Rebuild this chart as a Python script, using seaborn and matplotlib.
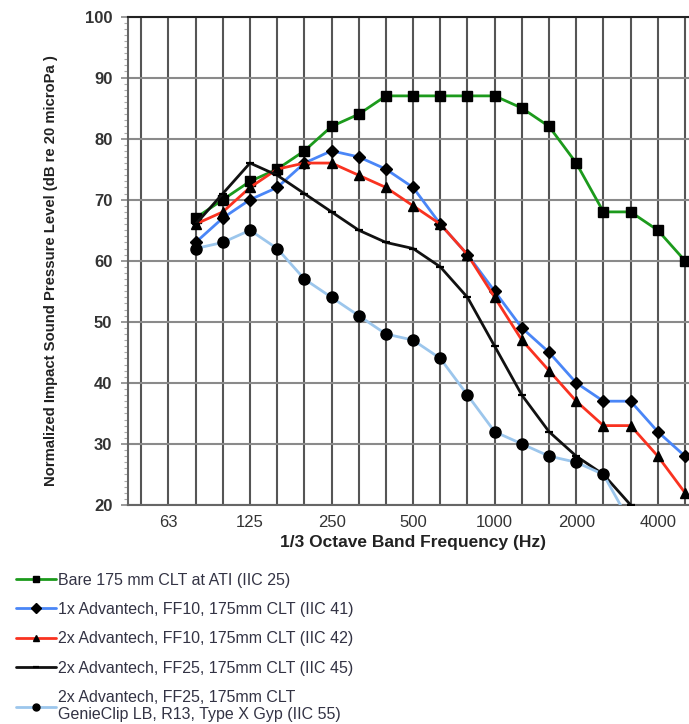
import matplotlib
matplotlib.use("Agg")
import matplotlib.pyplot as plt
import seaborn as sns
import numpy as np
import pandas as pd

# 1/3 octave bands shown on the axis
bands = ["50", "63", "80", "100", "125", "160", "200", "250", "315", "400", "500",
         "630", "800", "1000", "1250", "1600", "2000", "2500", "3150", "4000", "5000"]
labeled_bands = ["63", "125", "250", "500", "1000", "2000", "4000"]

# measured bands (80 Hz .. 5000 Hz)
freq_bare = bands[2:]
bare = [67, 70, 73, 75, 78, 82, 84, 87, 87, 87, 87, 87, 85, 82, 76, 68, 68, 65, 60]

freq_1x_ff10 = bands[2:]
adv1x_ff10 = [63, 67, 70, 72, 76, 78, 77, 75, 72, 66, 61, 55, 49, 45, 40, 37, 37, 32, 28]

freq_2x_ff10 = bands[2:]
adv2x_ff10 = [66, 68, 72, 75, 76, 76, 74, 72, 69, 66, 61, 54, 47, 42, 37, 33, 33, 28, 22]

freq_2x_ff25 = bands[2:19]
adv2x_ff25 = [66, 71, 76, 74, 71, 68, 65, 63, 62, 59, 54, 46, 38, 32, 28, 25, 20]

freq_genie = bands[2:19]
adv2x_genie = [62, 63, 65, 62, 57, 54, 51, 48, 47, 44, 38, 32, 30, 28, 27, 25, 17]

labels = [
    "Bare 175 mm CLT at ATI (IIC 25)",
    "1x Advantech, FF10, 175mm CLT (IIC 41)",
    "2x Advantech, FF10, 175mm CLT (IIC 42)",
    "2x Advantech, FF25, 175mm CLT (IIC 45)",
    "2x Advantech, FF25, 175mm CLT\nGenieClip LB, R13, Type X Gyp (IIC 55)",
]

sns.set_style("white")
plt.rcParams["font.family"] = ["Liberation Sans", "DejaVu Sans"]

fig = plt.figure(figsize=(6.89, 7.24), dpi=100)
ax = fig.add_axes([0.1853, 0.3025, 0.8286, 0.6747])

series = [
    (freq_bare, bare, "#1c9a1c", "s", 7.5, 1.0),
    (freq_1x_ff10, adv1x_ff10, "#4a86f7", "D", 6.0, 1.0),
    (freq_2x_ff10, adv2x_ff10, "#f93220", "^", 7.5, 1.0),
    (freq_2x_ff25, adv2x_ff25, "#111111", "_", 6.0, 1.6),
    (freq_genie, adv2x_genie, "#9cc6ec", "o", 8.0, 1.0),
]

for (fr, vals, col, mk, ms, mew), lab in zip(series, labels):
    df = pd.DataFrame({"pos": [bands.index(f) for f in fr], "val": vals})
    sns.lineplot(data=df, x="pos", y="val", ax=ax, color=col, linewidth=2.0,
                 marker=mk, markersize=ms, markerfacecolor="black",
                 markeredgecolor="black", markeredgewidth=mew, label=lab,
                 zorder=3)

ax.set_xlim(-0.5, len(bands) - 0.5)
ax.set_ylim(20, 100)
ax.set_yticks(np.arange(20, 101, 10))
ax.set_yticks(np.arange(20, 101, 1), minor=True)
ax.set_xticks([bands.index(b) for b in labeled_bands])
ax.set_xticklabels(labeled_bands)
ax.set_xticks(range(len(bands)), minor=True)

ax.grid(False)
ax.yaxis.grid(True, which="major", color="#8a8a8a", linewidth=1.5, zorder=0)
ax.xaxis.grid(True, which="both", color="#555555", linewidth=1.5, zorder=0)

ax.tick_params(axis="x", which="both", length=0, pad=7, labelsize=12, labelcolor="#333333")
ax.tick_params(axis="y", which="major", length=5, width=1.2, color="#888888",
               pad=6, labelsize=12, labelcolor="#333333", direction="out", left=True)
ax.tick_params(axis="y", which="minor", length=3, width=0.8, color="#aaaaaa",
               direction="out", left=True)
for lab in ax.get_yticklabels():
    lab.set_fontweight("bold")

for side in ["left", "bottom"]:
    ax.spines[side].set_color("#666666")
    ax.spines[side].set_linewidth(1.5)
ax.spines["top"].set_color("#222222")
ax.spines["top"].set_linewidth(1.5)
ax.spines["right"].set_color("#555555")

ax.set_xlabel("1/3 Octave Band Frequency (Hz)", fontsize=12.5, fontweight="bold",
              color="#222222", labelpad=4)
ax.set_ylabel("Normalized Impact Sound Pressure Level (dB re 20 microPa )",
              fontsize=10.7, fontweight="bold", color="#222222")
ax.yaxis.set_label_coords(-0.122, 0.479)

leg = ax.legend(loc="upper left", bbox_to_anchor=(0.014, 0.218),
                bbox_transform=fig.transFigure, frameon=False, fontsize=11.5,
                handlelength=2.5, handletextpad=0.15, labelspacing=0.9,
                borderaxespad=0)
for h in leg.legend_handles:
    h.set_markersize(5)
    h.set_linewidth(2.0)
for t in leg.get_texts():
    t.set_color("#333344")

fig.savefig("out.png", dpi=100)
